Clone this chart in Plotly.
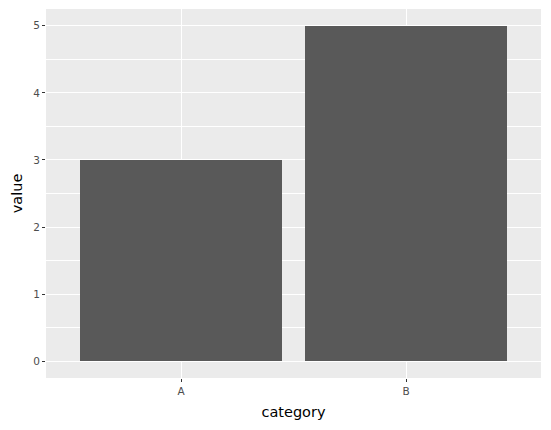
import plotly.graph_objects as go

categories = ["A", "B"]
values = [3, 5]

fig = go.Figure(go.Bar(x=categories, y=values, width=0.9,
                       marker=dict(color="#595959", line=dict(width=0))))

fig.update_layout(
    width=551, height=430,
    margin=dict(l=46, r=10, t=9, b=52),
    paper_bgcolor="white", plot_bgcolor="#ebebeb",
    font=dict(family="DejaVu Sans", color="black"),
    showlegend=False,
    bargap=0,
)
fig.update_xaxes(
    range=[-0.6, 1.6], showgrid=True, gridcolor="white", gridwidth=1.1,
    ticks="outside", ticklen=3, tickcolor="#333333", tickwidth=1,
    tickfont=dict(size=10.5, color="#4d4d4d"),
    title=dict(text="category", font=dict(size=14.5), standoff=11),
    zeroline=False, showline=False, automargin=False,
)
fig.update_yaxes(
    range=[-0.25, 5.25], dtick=1, showgrid=True, gridcolor="white", gridwidth=1.1,
    minor=dict(dtick=0.5, showgrid=True, gridcolor="white", gridwidth=0.55),
    ticks="outside", ticklen=3, tickcolor="#333333", tickwidth=1,
    tickfont=dict(size=10.5, color="#4d4d4d"),
    title=dict(text="value", font=dict(size=14.5), standoff=7),
    zeroline=False, showline=False, automargin=False,
)

# drop the default page margin so the figure sits at the window's corner
fig.write_html("out.html", config={"displayModeBar": False},
               post_script="document.body.style.margin='0';document.body.style.overflow='hidden';")
